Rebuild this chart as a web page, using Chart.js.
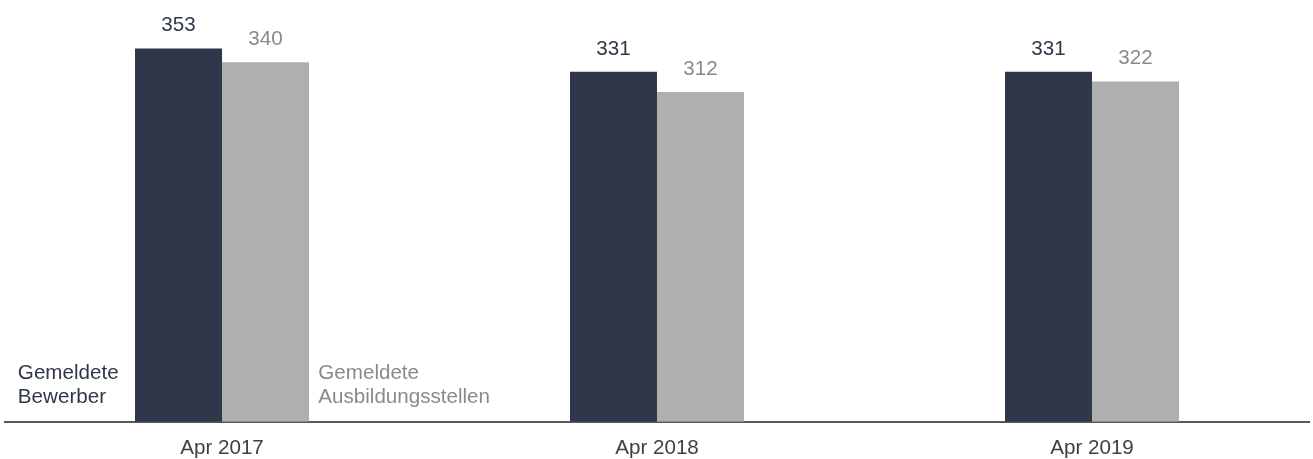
<!DOCTYPE html>
<html>
<head>
<meta charset="utf-8">
<script src="https://cdn.jsdelivr.net/npm/chart.js@4"></script>
<style>
  html, body { margin: 0; padding: 0; background: #ffffff; overflow: hidden; }
  #wrap { width: 1313px; height: 459px; position: relative; }
</style>
</head>
<body>
<div id="wrap"><canvas id="c"></canvas></div>
<script>
const categories = ["Apr 2017", "Apr 2018", "Apr 2019"];
const bewerber = [353, 331, 331];
const stellen = [340, 312, 322];
const seriesNames = [["Gemeldete", "Bewerber"], ["Gemeldete", "Ausbildungsstellen"]];

const DARK = "#2F374B";
const GRAY = "#AFAFAF";
const DARK_TEXT = "#2F374B";
const GRAY_TEXT = "#8A8A8A";
const FONT = "'Liberation Sans', Arial, Helvetica, sans-serif";
const FSIZE = 20.6;

const labelPlugin = {
  id: "labels",
  afterDatasetsDraw(chart) {
    const ctx = chart.ctx;
    ctx.save();
    ctx.font = FSIZE + "px " + FONT;
    chart.data.datasets.forEach((ds, di) => {
      const meta = chart.getDatasetMeta(di);
      ctx.fillStyle = di === 0 ? DARK_TEXT : GRAY_TEXT;
      ctx.textAlign = "center";
      ctx.textBaseline = "middle";
      meta.data.forEach((bar, i) => {
        ctx.fillText(String(ds.data[i]), bar.x, bar.y - 23);
      });
    });
    const bottom = chart.chartArea.bottom;
    ctx.textBaseline = "alphabetic";
    ctx.textAlign = "left";
    const b0 = chart.getDatasetMeta(0).data[0];
    const b1 = chart.getDatasetMeta(1).data[0];
    const left0 = b0.x - b0.width / 2;
    const lines0 = seriesNames[0];
    const w0 = Math.max(...lines0.map(t => ctx.measureText(t).width));
    ctx.fillStyle = DARK_TEXT;
    lines0.forEach((t, k) => ctx.fillText(t, left0 - 16.4 - w0, bottom - 42.2 + k * 24));
    const right1 = b1.x + b1.width / 2;
    ctx.fillStyle = GRAY_TEXT;
    seriesNames[1].forEach((t, k) => ctx.fillText(t, right1 + 9.3, bottom - 42.2 + k * 24));
    ctx.restore();
  }
};

new Chart(document.getElementById("c"), {
  type: "bar",
  data: {
    labels: categories,
    datasets: [
      { label: seriesNames[0].join(" "), data: bewerber, backgroundColor: DARK, borderWidth: 0 },
      { label: seriesNames[1].join(" "), data: stellen, backgroundColor: GRAY, borderWidth: 0 }
    ]
  },
  options: {
    responsive: true,
    maintainAspectRatio: false,
    animation: false,
    devicePixelRatio: 1,
    categoryPercentage: 0.4,
    barPercentage: 1.0,
    layout: { padding: { left: 4.5, right: 3.5, top: 0, bottom: -16 } },
    plugins: { legend: { display: false }, tooltip: { enabled: false } },
    scales: {
      x: {
        grid: { display: false, drawTicks: false },
        border: { display: true, color: "#595959", width: 2 },
        ticks: { color: "#404040", padding: 14.3, font: { family: FONT, size: FSIZE } }
      },
      y: {
        display: false,
        min: 0,
        max: 399
      }
    }
  },
  plugins: [labelPlugin]
});
</script>
</body>
</html>
